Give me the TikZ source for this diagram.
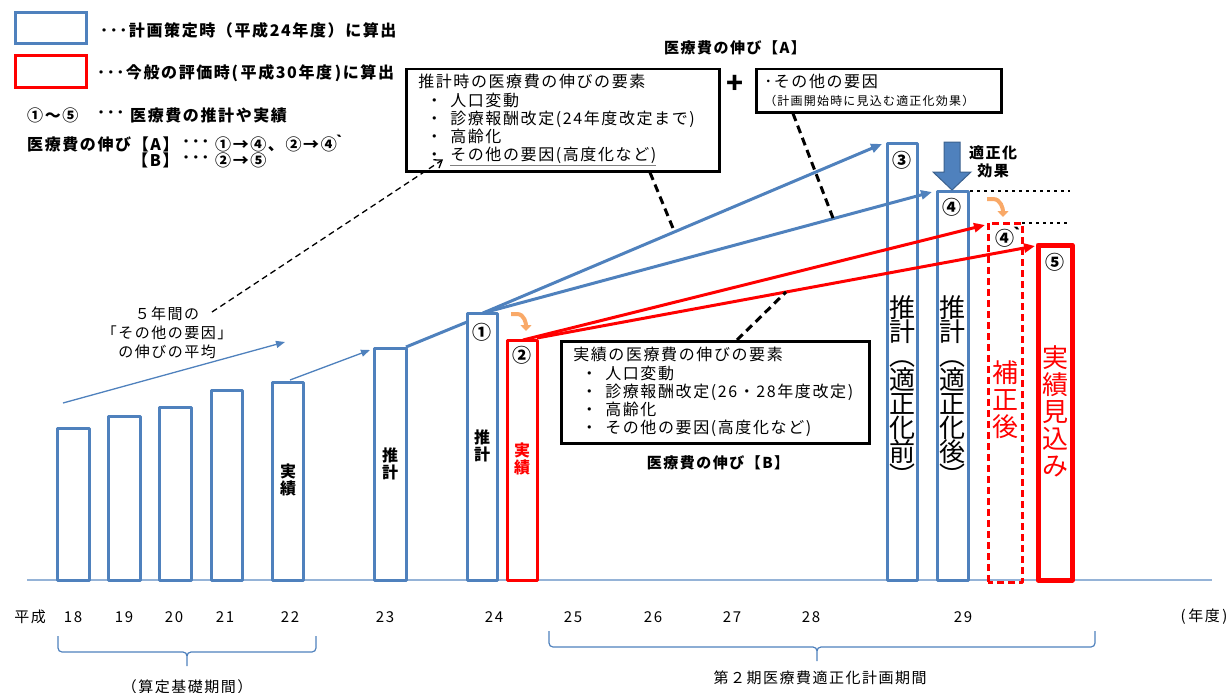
\documentclass[tikz,border=0pt]{standalone}
\usepackage{fontspec}
\setmainfont{Noto Sans CJK JP}[LetterSpace=10]
\usetikzlibrary{arrows.meta}
\usetikzlibrary{calc}

\definecolor{planblue}{HTML}{4F81BD}
\definecolor{axisblue}{HTML}{95B3D7}
\definecolor{evalred}{HTML}{FF0000}
\definecolor{hookorange}{HTML}{F9A968}

\begin{document}
\begin{tikzpicture}[
        x=1pt, y=-1pt,
        every node/.style={inner sep=0pt, font=\fontsize{15}{18}\selectfont},
        bluebar/.style={draw=planblue, line width=3pt, line join=round},
        redbar/.style={draw=evalred, line width=3pt, line join=round},
        infobox/.style={draw, line width=2.5pt, anchor=north west, align=left},
        legendtxt/.style={anchor=west, font=\bfseries\fontsize{16}{18}\selectfont},
        circnum/.style={font=\bfseries\fontsize{19}{20}\selectfont},
        barlabel/.style={align=center, font=\bfseries\fontsize{16}{17}\selectfont},
        vlabel/.style={align=center, anchor=north, font=\fontsize{26}{24}\selectfont},
        redvlabel/.style={align=center, anchor=north, text=evalred, font=\fontsize{26}{27}\selectfont},
        bluegrowth/.style={planblue, line width=3pt, -{Triangle[length=11pt,width=9pt]}},
        redgrowth/.style={evalred, line width=3pt, -{Triangle[length=11pt,width=9pt]}},
        thinblue/.style={planblue, line width=1.3pt, -{Triangle[length=9pt,width=7pt]}},
        leaderline/.style={line width=3pt, dash pattern=on 8pt off 5pt},
        bendarrow/.style={hookorange, line width=4pt, -{Triangle[length=6pt,width=11pt]}},
        bracepath/.style={planblue, line width=1.2pt}
    ]

        \useasboundingbox (0,0) rectangle (1232,693);

        % Leyenda
        \draw[planblue, line width=3pt] (15,13) rectangle (86,44);
        \draw[evalred, line width=3pt] (15,56) rectangle (86,88);
        \node[legendtxt] (leg1) at (100,30) {･･･計画策定時（平成24年度）に算出};
        \node[legendtxt] (leg2) at (97,73) {･･･今般の評価時(\,平成30年度\,)に算出};
        \node[legendtxt] (leg3) at (27,115) {①～⑤};
        \node[legendtxt] (leg3b) at (97,115) {･･･};
        \node[legendtxt] (leg3c) at (130,115) {医療費の推計や実績};
        \node[legendtxt] (leg4) at (27,144) {医療費の伸び【A】};
        \node[legendtxt] (leg4b) at (182,144) {･･･};
        \node[legendtxt] (leg4c) at (215,144) {①→④、②→④\hspace{-5pt}｀};
        \node[legendtxt] (leg5) at (132,160) {【B】};
        \node[legendtxt] (leg5b) at (182,160) {･･･};
        \node[legendtxt] (leg5c) at (215,160) {②→⑤};

        % Eje
        \draw[axisblue, line width=2pt] (27,580) -- (1212,580);

        % Barras
        \draw[bluebar] (57,580) rectangle (89,428);
        \draw[bluebar] (108,580) rectangle (140,416);
        \draw[bluebar] (159,580) rectangle (191,407);
        \draw[bluebar] (211,580) rectangle (242,390);
        \draw[bluebar] (272,580) rectangle (303,382);
        \draw[bluebar] (374,580) rectangle (406,348);
        \draw[bluebar] (467,580) rectangle (497,313);
        \draw[redbar] (507,580) rectangle (537,340);
        \draw[bluebar] (887,580) rectangle (917,143);
        \draw[bluebar] (937,580) rectangle (968,191);
        \draw[redbar, dash pattern=on 7pt off 4pt] (988,582) rectangle (1022,223);
        \draw[redbar, line width=5pt] (1038,580) rectangle (1072,245);

        % Lineas punteadas de nivel
        \draw[line width=2.5pt, dash pattern=on 3pt off 4pt] (970,191) -- (1070,191);
        \draw[line width=2.5pt, dash pattern=on 3pt off 4pt] (1022,223) -- (1070,223);

        % Etiquetas de las barras
        \node[barlabel] (lbl22) at (288,480) {実\\績};
        \node[barlabel] (lbl23) at (390,464) {推\\計};
        \node[barlabel] (lbl24) at (482,446) {推\\計};
        \node[barlabel, text=evalred] (lbl2) at (522,459) {実\\績};

        \node[circnum] (n1) at (482,332) {①};
        \node[circnum] (n2) at (522,355) {②};
        \node[circnum] (n3) at (902,160) {③};
        \node[circnum] (n4) at (952,207) {④};
        \node[circnum] (n4r) at (1011,237) {④\hspace{-6pt}｀};
        \node[circnum] (n5) at (1055,262) {⑤};

        \node[vlabel] (v3) at (902,295) {推\\計\\︵\\適\\正\\化\\前\\︶};
        \node[vlabel] (v4) at (952,295) {推\\計\\︵\\適\\正\\化\\後\\︶};
        \node[redvlabel] (v4r) at (1005,360) {補\\正\\後};
        \node[redvlabel] (v5) at (1055,345) {実\\績\\見\\込\\み};

        % Flecha de efecto de optimizacion
        \filldraw[fill=planblue, draw=planblue!75!black, line width=1pt]
            (944,142) -- (960,142) -- (960,172) -- (971,172) -- (952,190) -- (933,172) -- (944,172) -- cycle;
        \node[font=\bfseries\fontsize{15}{18}\selectfont, align=center] (effect) at (993,162) {適正化\\効果};

        % Cuadros de texto
        \node[font=\bfseries\fontsize{15}{17}\selectfont] (growA) at (735,48) {医療費の伸び【A】};
        \node[infobox, minimum width=313pt, minimum height=102pt, text width=289pt, inner xsep=12pt,
            font=\fontsize{16}{18}\selectfont] (estbox) at (405,68) {推計時の医療費の伸びの要素\\[1pt]
            \hspace{8pt}・\hspace{8pt}人口変動\\
            \hspace{8pt}・\hspace{8pt}診療報酬改定(24年度改定まで)\\
            \hspace{8pt}・\hspace{8pt}高齢化\\
            \hspace{8pt}・\hspace{8pt}{\color{gray}\underline{\color{black}その他の要因(高度化など)}}};
        \node[font=\bfseries\fontsize{28}{30}\selectfont] (plus) at (735,84) {+};
        \node[infobox, minimum width=245pt, minimum height=43pt, text width=229pt, inner xsep=8pt,
            font=\fontsize{16}{18}\selectfont] (otherbox) at (755,68) {･その他の要因\\
            {\fontsize{12}{15}\selectfont（計画開始時に見込む適正化効果）}};
        \node[infobox, minimum width=308pt, minimum height=102pt, text width=284pt, inner xsep=12pt,
            font=\fontsize{16}{18}\selectfont] (realbox) at (560,340) {実績の医療費の伸びの要素\\[1pt]
            \hspace{8pt}・\hspace{8pt}人口変動\\
            \hspace{8pt}・\hspace{8pt}診療報酬改定(26・28年度改定)\\
            \hspace{8pt}・\hspace{8pt}高齢化\\
            \hspace{8pt}・\hspace{8pt}その他の要因(高度化など)};
        \node[font=\bfseries\fontsize{15}{17}\selectfont] (growB) at (718,463) {医療費の伸び【B】};

        \node[align=center, font=\fontsize{15}{19}\selectfont] (avgtxt) at (167,333) {５年間の\\「その他の要因」\\の伸びの平均};

        % Puntos de las flechas
        \coordinate (avgfrom) at (63,403);
        \coordinate (avgto) at (285,342);
        \coordinate (top22) at (290,380);
        \coordinate (to23) at (370,350);
        \coordinate (top23) at (406,347);
        \coordinate (left24) at (467,322);
        \coordinate (top24) at (483,313);
        \coordinate (top2) at (523,340);
        \coordinate (top2r) at (537,338);
        \coordinate (tip3) at (882,144);
        \coordinate (tip4) at (932,192);
        \coordinate (tip4r) at (985,225);
        \coordinate (tip5) at (1035,246);
        \coordinate (avgstart) at (212,312);

        % Flechas de crecimiento
        \draw[thinblue] (avgfrom) -- (avgto);
        \draw[thinblue] (top22) -- (to23);
        \draw[planblue, line width=3pt] (top23) -- (left24);
        \draw[bluegrowth] (top24) -- (tip3);
        \draw[bluegrowth] (top24) -- (tip4);
        \draw[redgrowth] (top2) -- (tip4r);
        \draw[redgrowth] (top2r) -- (tip5);

        % Lineas guia
        \draw[leaderline] ([xshift=245pt]estbox.south west) -- ($(top24)!0.48!(tip3)$);
        \draw[leaderline] ([xshift=38pt]otherbox.south west) -- ($(top24)!0.78!(tip4)$);
        \draw[leaderline] ([xshift=177pt]realbox.north west) -- ($(top2r)!0.5!(tip5)$);
        \draw[line width=1.3pt, dash pattern=on 6pt off 4pt, -{Straight Barb[length=7pt,width=10pt]}]
            (avgstart) -- ([xshift=38pt,yshift=13pt]estbox.south west);

        % Flechas curvas
        \draw[bendarrow] (511,314) -- (517,314) to[out=0,in=90] (526,331);
        \draw[bendarrow] (987,199) -- (993,199) to[out=0,in=90] (1003,217);

        % Eje de anos
        \node (heisei) at (30,617) {平成};
        \foreach \yr/\xp in {18/73,19/124,20/174,21/225,22/290,23/385,24/494,25/573,26/653,27/732,28/811,29/963}
            \node (yr\yr) at (\xp,617) {\yr};
        \node (nendo) at (1204,617) {(\,年度\,)};

        % Llaves de periodo
        \draw[bracepath] (58,636) -- (58,648) to[out=-90,in=180] (62,652) -- (183,652) to[out=0,in=90] (187,656) -- (187,666)
            (187,656) to[out=90,in=180] (191,652) -- (312,652) to[out=0,in=-90] (316,648) -- (316,636);
        \draw[bracepath] (549,631) -- (549,643) to[out=-90,in=180] (553,647) -- (813,647) to[out=0,in=90] (817,651) -- (817,661)
            (817,651) to[out=90,in=180] (821,647) -- (1091,647) to[out=0,in=-90] (1095,643) -- (1095,631);
        \node (period1) at (187,687) {（算定基礎期間）};
        \node (period2) at (820,678) {第２期医療費適正化計画期間};

\end{tikzpicture}
\end{document}
